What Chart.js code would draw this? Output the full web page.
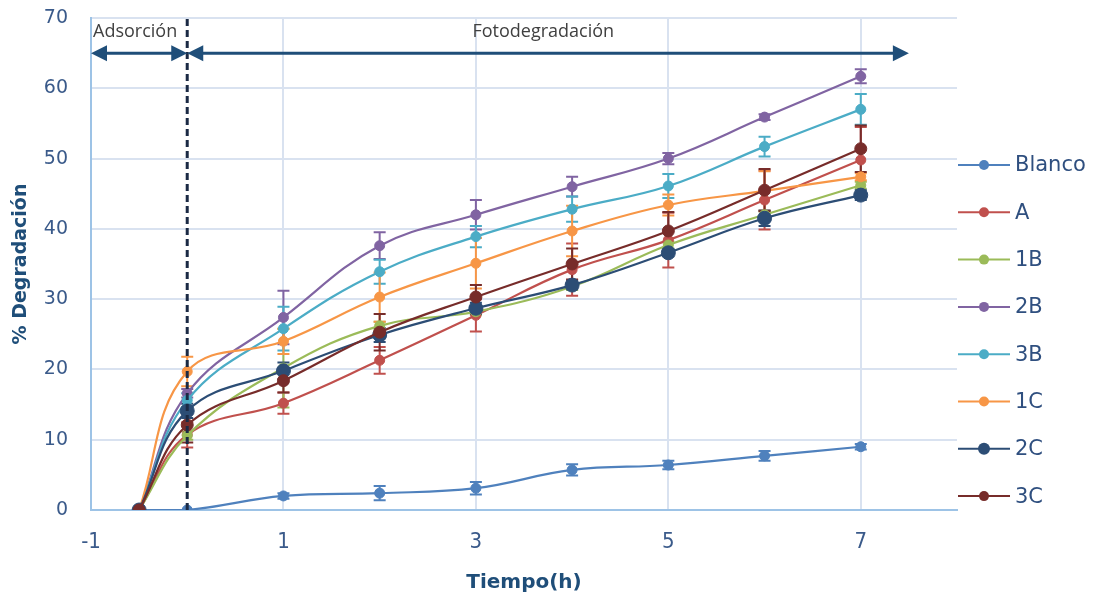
<!DOCTYPE html>
<html>
<head>
<meta charset="utf-8">
<script src="https://cdn.jsdelivr.net/npm/chart.js@4.4.1/dist/chart.umd.min.js"></script>
<style>
    html, body { margin: 0; padding: 0; background: #fff; }
</style>
</head>
<body>
<canvas id="degradacion" width="1100" height="601"></canvas>
<script>
// 时间点 (h)
const tiempos = [-0.5, 0, 1, 2, 3, 4, 5, 6, 7];
const xTicks = [-1, 1, 3, 5, 7];
const yTicks = [0, 10, 20, 30, 40, 50, 60, 70];

// 各系列 % 降解
const nombres = ['Blanco', 'A', '1B', '2B', '3B', '1C', '2C', '3C'];
const blanco = [0, 0, 2.0, 2.4, 3.1, 5.7, 6.4, 7.7, 9.0];
const serieA = [0, 10.7, 15.2, 21.3, 27.7, 34.2, 38.4, 44.1, 49.8];
const serie1B = [0, 10.6, 20.2, 26.2, 28.2, 31.8, 37.7, 42.0, 46.2];
const serie2B = [0, 16.6, 27.4, 37.6, 42.0, 46.0, 50.0, 55.9, 61.7];
const serie3B = [0, 15.6, 25.8, 33.9, 38.9, 42.8, 46.1, 51.7, 57.0];
const serie1C = [0, 19.7, 24.0, 30.3, 35.1, 39.7, 43.4, 45.4, 47.4];
const serie2C = [0, 14.1, 19.8, 24.9, 28.7, 32.0, 36.6, 41.5, 44.8];
const serie3C = [0, 12.1, 18.4, 25.3, 30.3, 35.0, 39.7, 45.5, 51.4];

// 误差 (±)
const errBlanco = [0, 0, 0.4, 1.0, 0.9, 0.8, 0.6, 0.7, 0.4];
const errA = [0, 1.8, 1.5, 1.9, 2.3, 3.7, 3.9, 4.2, 4.7];
const err1B = [0, 0.6, 5.6, 0.6, 0.5, 0.5, 0.5, 0.5, 0.5];
const err2B = [0, 0.6, 3.8, 1.9, 2.1, 1.4, 0.8, 0.4, 1.0];
const err3B = [0, 1.0, 3.1, 1.7, 1.5, 1.8, 1.7, 1.4, 2.2];
const err1C = [0, 2.1, 1.8, 3.5, 3.6, 3.6, 1.5, 2.8, 0.5];
const err2C = [0, 1.0, 1.2, 1.0, 0.8, 0.6, 0.5, 1.1, 0.7];
const err3C = [0, 2.5, 1.7, 2.6, 1.7, 2.2, 2.7, 3.0, 3.3];

const colores = ['#4f81bd', '#c0504d', '#9bbb59', '#8064a2', '#4bacc6', '#f79646', '#2c4d75', '#772c2a'];
const radios = [5, 5, 5, 5, 5, 5, 7, 6];

const valores = [blanco, serieA, serie1B, serie2B, serie3B, serie1C, serie2C, serie3C];
const errores = [errBlanco, errA, err1B, err2B, err3B, err1C, err2C, err3C];

const datasets = nombres.map((nombre, i) => ({
    label: nombre,
    data: tiempos.map((t, j) => ({ x: t, y: valores[i][j] })),
    errores: errores[i],
    borderColor: colores[i],
    backgroundColor: colores[i],
    pointBackgroundColor: colores[i],
    pointBorderColor: colores[i],
    pointRadius: radios[i],
    pointBorderWidth: 1,
    borderWidth: 2.2,
    tension: 0.4,
    order: nombres.length - i
}));

// 误差线
const barrasError = {
    id: 'barrasError',
    beforeDatasetsDraw(chart) {
        const { ctx, scales: { x, y } } = chart;
        chart.data.datasets.forEach(ds => {
            ctx.save();
            ctx.strokeStyle = ds.borderColor;
            ctx.lineWidth = 2;
            ds.data.forEach((p, j) => {
                const e = ds.errores[j];
                if (!e) return;
                const px = x.getPixelForValue(p.x);
                const top = y.getPixelForValue(p.y + e);
                const bot = y.getPixelForValue(p.y - e);
                ctx.beginPath();
                ctx.moveTo(px, top); ctx.lineTo(px, bot);
                ctx.moveTo(px - 6, top); ctx.lineTo(px + 6, top);
                ctx.moveTo(px - 6, bot); ctx.lineTo(px + 6, bot);
                ctx.stroke();
            });
            ctx.restore();
        });
    }
};

// 吸附/光降解 标注
const flecha = (ctx, x0, x1, yy) => {
    ctx.beginPath();
    ctx.moveTo(x0 + 10, yy); ctx.lineTo(x1 - 10, yy);
    ctx.stroke();
    [[x0, 1], [x1, -1]].forEach(([tip, dir]) => {
        ctx.beginPath();
        ctx.moveTo(tip, yy);
        ctx.lineTo(tip + dir * 16, yy - 8);
        ctx.lineTo(tip + dir * 16, yy + 8);
        ctx.closePath();
        ctx.fill();
    });
};

const anotaciones = {
    id: 'anotaciones',
    afterDatasetsDraw(chart) {
        const { ctx, chartArea, scales: { x, y } } = chart;
        const x0 = x.getPixelForValue(0);
        ctx.save();
        // 虚线
        ctx.strokeStyle = '#1b2a44';
        ctx.lineWidth = 3;
        ctx.setLineDash([7, 4]);
        ctx.beginPath();
        ctx.moveTo(x0, chartArea.bottom);
        ctx.lineTo(x0, chartArea.top);
        ctx.stroke();
        ctx.setLineDash([]);
        // 箭头
        const yy = y.getPixelForValue(65);
        ctx.strokeStyle = '#1f4e79';
        ctx.fillStyle = '#1f4e79';
        ctx.lineWidth = 3;
        flecha(ctx, x.getPixelForValue(-1), x0, yy);
        flecha(ctx, x0, x.getPixelForValue(7.5), yy);
        // 文字
        ctx.fillStyle = '#404040';
        ctx.font = '18px "Open Sans"';
        ctx.textBaseline = 'middle';
        ctx.textAlign = 'left';
        ctx.fillText('Adsorción', x.getPixelForValue(-1) + 2, 32);
        ctx.textAlign = 'center';
        ctx.fillText('Fotodegradación', x.getPixelForValue(3.7), 32);
        ctx.restore();
    }
};

// 右侧图例
const leyenda = {
    id: 'leyenda',
    afterDraw(chart) {
        const ctx = chart.ctx;
        ctx.save();
        chart.data.datasets.forEach((ds, i) => {
            const yc = 165 + i * 47.3;
            ctx.strokeStyle = ds.borderColor;
            ctx.lineWidth = 2;
            ctx.beginPath();
            ctx.moveTo(958, yc); ctx.lineTo(1010, yc);
            ctx.stroke();
            ctx.fillStyle = ds.pointBackgroundColor;
            ctx.beginPath();
            ctx.arc(984, yc, ds.pointRadius === 7 ? 6 : 5, 0, Math.PI * 2);
            ctx.fill();
            ctx.fillStyle = '#2f4f7f';
            ctx.font = '21px "DejaVu Sans"';
            ctx.textBaseline = 'middle';
            ctx.textAlign = 'left';
            ctx.fillText(ds.label, 1015, yc + 1);
        });
        ctx.restore();
    }
};

new Chart(document.getElementById('degradacion').getContext('2d'), {
    type: 'line',
    data: { datasets },
    options: {
        responsive: false,
        animation: false,
        layout: { padding: { top: 18, right: 143, left: 0, bottom: 0 } },
        plugins: {
            legend: { display: false },
            tooltip: { enabled: false }
        },
        scales: {
            x: {
                type: 'linear',
                min: -1,
                max: 8,
                afterBuildTicks: s => { s.ticks = xTicks.map(v => ({ value: v })); },
                afterFit: s => { s.height = 91; s.paddingLeft = 0; s.paddingRight = 0; },
                grid: { color: '#d9e2f0', lineWidth: 2, drawTicks: false },
                border: { color: '#9dc3e6', width: 2 },
                ticks: {
                    padding: 19,
                    color: '#3a5a8a',
                    font: { family: '"Liberation Sans Narrow", "DejaVu Sans Condensed"', size: 22 }
                },
                title: {
                    display: true,
                    text: 'Tiempo(h)',
                    color: '#1f4e79',
                    padding: { top: 0, bottom: 6 },
                    font: { family: '"DejaVu Sans"', size: 20, weight: 'bold' }
                }
            },
            y: {
                min: 0,
                max: 70,
                afterBuildTicks: s => { s.ticks = yTicks.map(v => ({ value: v })); },
                afterFit: s => { s.width = 91; s.paddingTop = 0; s.paddingBottom = 0; },
                grid: { color: '#d9e2f0', lineWidth: 2, drawTicks: false },
                border: { color: '#9dc3e6', width: 2 },
                ticks: {
                    padding: 23,
                    color: '#3a5a8a',
                    font: { family: '"DejaVu Sans"', size: 19 }
                },
                title: {
                    display: true,
                    text: '% Degradación',
                    color: '#1f4e79',
                    padding: { top: 10, bottom: 0 },
                    font: { family: '"DejaVu Sans"', size: 19, weight: 'bold' }
                }
            }
        }
    },
    plugins: [barrasError, anotaciones, leyenda]
});
</script>
</body>
</html>
